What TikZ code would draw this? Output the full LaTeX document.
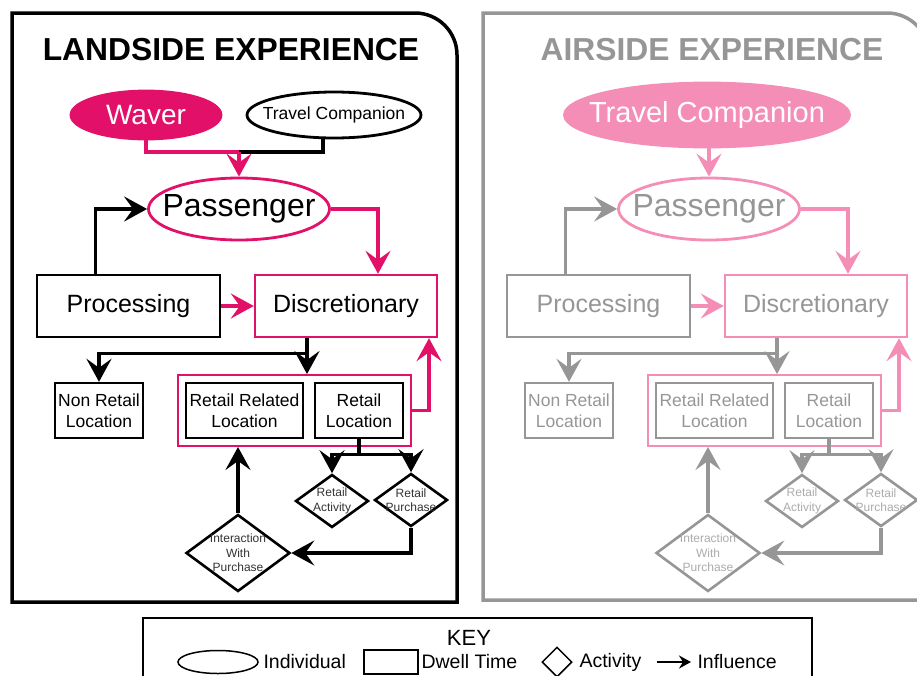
\documentclass[tikz,border=0pt]{standalone}
\usepackage{fontspec}
\setmainfont{Liberation Sans}
\usetikzlibrary{arrows.meta,shapes.geometric}
\definecolor{waverpink}{RGB}{226,16,104}
\definecolor{softpink}{RGB}{244,142,182}
\definecolor{softgray}{RGB}{150,150,150}
\newcommand{\pxsize}[2]{\fontsize{#1}{#2}\selectfont}
\begin{document}
\begin{tikzpicture}[x=1pt, y=-1pt,
    indiv/.style={ellipse, line width=2.8pt, inner sep=0pt},
    dwell/.style={rectangle, line width=2.4pt, inner sep=0pt, align=center},
    activity/.style={diamond, line width=2.6pt, inner sep=0pt},
    acttext/.style={align=center, font=\pxsize{12}{14.5}},
    link/.style={line width=3.2pt},
    influence/.style={link, -{Stealth[length=23pt, width=25pt, inset=9pt]}},
    heading/.style={font=\bfseries\pxsize{31.8}{34}},
    keytext/.style={anchor=west, font=\pxsize{19.5}{22}}]
  \useasboundingbox (0,0) rectangle (917,675);
  \clip (0,0) rectangle (917,675);

  % the two panels
  \draw[line width=3.5pt] (12,602) -- (12,13) -- (415,13) arc[start angle=-90, end angle=0, radius=42] -- (457,602) -- cycle;
  \draw[line width=3.5pt, softgray] (483,600) -- (483,13) -- (887,13) arc[start angle=-90, end angle=0, radius=42] -- (929,600) -- cycle;
  \node[heading] (L-title) at (231,50) {LANDSIDE EXPERIENCE};
  \node[heading, text=softgray] (R-title) at (712,50) {AIRSIDE EXPERIENCE};

  % same layout on both sides, only the colours change
  \foreach \p/\dx/\ink/\accent/\txt in {L/0/black/waverpink/black, R/470/softgray/softpink/softgray}{
    \begin{scope}[xshift=\dx pt, text=\txt]
      \node[indiv, draw=\accent, minimum width=181pt, minimum height=62pt,
            label={[font=\pxsize{32}{34}, text=\txt]center:Passenger}] (\p-pass) at (239,209) {};
      \node[dwell, draw=\ink, minimum width=183pt, minimum height=62pt, font=\pxsize{25}{28}] (\p-proc) at (128.5,306) {Processing};
      \node[dwell, draw=\accent, minimum width=182pt, minimum height=62pt, font=\pxsize{25}{28}] (\p-disc) at (346,306) {Discretionary};
      \node[dwell, draw=\ink, minimum width=88pt, minimum height=55pt, font=\pxsize{17.5}{21}] (\p-nonret) at (99,410.5) {Non Retail\\Location};
      \node[dwell, draw=\accent, line width=1.9pt, minimum width=233pt, minimum height=71pt] (\p-group) at (294.5,410.5) {};
      \node[dwell, draw=\ink, minimum width=117pt, minimum height=55pt, font=\pxsize{17.5}{21}] (\p-rrel) at (244.5,410.5) {Retail Related\\Location};
      \node[dwell, draw=\ink, minimum width=88pt, minimum height=55pt, font=\pxsize{17.5}{21}] (\p-rloc) at (359,410.5) {Retail\\Location};
      % activities
      \node[activity, draw=\ink, minimum width=73pt, minimum height=53pt,
            label={[acttext, text=\txt!80]center:Retail\\Activity}] (\p-ract) at (332,501) {};
      \node[activity, draw=\ink, minimum width=73pt, minimum height=53pt,
            label={[acttext, text=\txt!80]center:Retail\\Purchase}] (\p-rpur) at (411,500) {};
      \node[activity, draw=\ink, minimum width=104pt, minimum height=77pt,
            label={[acttext, text=\txt!80]center:Interaction\\With\\Purchase}] (\p-iwp) at (238,553) {};
      % influences
      \draw[influence, \ink] ([xshift=-33pt]\p-proc.north) |- (\p-pass.west);
      \draw[influence, \accent] (\p-pass.east) -| ([xshift=32pt]\p-disc.north);
      \draw[influence, \accent] (\p-proc.east) -- (\p-disc.west);
      \draw[link, \ink] ([xshift=-39pt]\p-disc.south) -- ++(0,15) coordinate (\p-split);
      \draw[influence, \ink] (\p-split) -| (\p-nonret.north);
      \draw[influence, \ink] (\p-split) -- (\p-split |- \p-group.north);
      \draw[influence, \accent] (\p-group.east) -| ([xshift=83pt]\p-disc.south);
      \draw[link, \ink] (\p-rloc.south) -- ++(0,15) coordinate (\p-fork);
      \draw[influence, \ink] (\p-fork) -| (\p-ract.north);
      \draw[influence, \ink] (\p-fork) -| (\p-rpur.north);
      \draw[influence, \ink] (\p-rpur.south) |- (\p-iwp.east);
      \draw[influence, \ink] (\p-iwp.north) -- (\p-iwp.north |- \p-group.south);
    \end{scope}
  }

  % who comes along
  \node[indiv, fill=waverpink, draw=waverpink, minimum width=150pt, minimum height=48pt,
        label={[text=white, font=\pxsize{28}{30}]center:Waver}] (L-waver) at (146,115) {};
  \node[indiv, draw=black, minimum width=174pt, minimum height=46pt,
        label={[font=\pxsize{17.5}{20}]center:Travel Companion}] (L-tc) at (334,115) {};
  \coordinate (L-join) at (239,152);
  \draw[link, waverpink] (L-waver.south) |- (L-join);
  \draw[link] ([xshift=-11pt]L-tc.south) |- (L-join);
  \draw[influence, waverpink] (L-join) -- (L-pass.north);
  \node[indiv, fill=softpink, draw=softpink, minimum width=285pt, minimum height=64pt,
        label={[text=white, font=\pxsize{29}{31}]center:Travel Companion}] (R-tc) at (707,115) {};
  \draw[influence, softpink] (R-pass.north |- R-tc.south) -- (R-pass.north);

  % key
  \node[draw, line width=2.5pt, minimum width=669pt, minimum height=82pt] (key) at (477.5,659) {};
  \node[font=\pxsize{22}{24}] (key-title) at (469,638) {KEY};
  \node[ellipse, draw, line width=1.5pt, minimum width=80pt, minimum height=23pt] (key-ind) at (218,662) {};
  \node[keytext] (key-indtxt) at (260,662) {Individual};
  \node[rectangle, draw, line width=1.5pt, minimum width=54pt, minimum height=24pt] (key-dwell) at (391,662) {};
  \node[keytext] (key-dwelltxt) at (418,662) {Dwell Time};
  \node[diamond, draw, line width=1.5pt, inner sep=0pt, minimum width=30pt, minimum height=30pt] (key-act) at (557,662) {};
  \node[keytext] (key-acttxt) at (576,662) {Activity};
  \coordinate (key-a0) at (657,662);
  \coordinate (key-a1) at (691,662);
  \draw[line width=2pt, -{Stealth[length=12pt, width=13pt, inset=4pt]}] (key-a0) -- (key-a1);
  \node[keytext] (key-inftxt) at (694,662) {Influence};
\end{tikzpicture}
\end{document}
